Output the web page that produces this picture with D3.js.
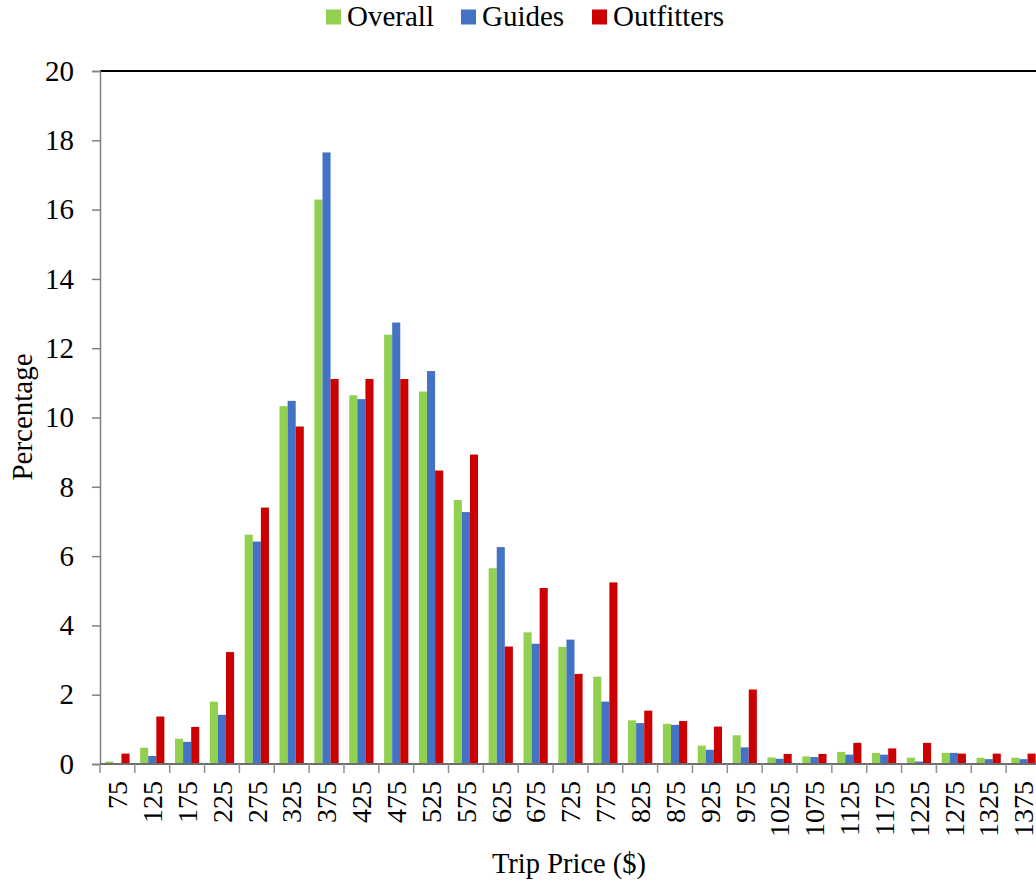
<!DOCTYPE html>
<html><head><meta charset="utf-8">
<script src="https://cdn.jsdelivr.net/npm/d3@7"></script>
<style>
html,body{margin:0;padding:0;background:#fff;}
svg{display:block;font-family:"Liberation Serif","Times New Roman",serif;}
</style></head>
<body>
<svg id="chart" width="1036" height="886"></svg>
<script>
const categories = ["75","125","175","225","275","325","375","425","475","525","575","625","675","725","775","825","875","925","975","1025","1075","1125","1175","1225","1275","1325","1375"];
const seriesNames = ["Overall","Guides","Outfitters"];
const overall =    [0.07,0.47,0.73,1.80,6.62,10.33,16.29,10.64,12.39,10.75,7.62,5.65,3.80,3.38,2.52,1.26,1.16,0.53,0.83,0.19,0.22,0.35,0.32,0.18,0.32,0.18,0.18];
const guides =     [0.00,0.23,0.64,1.42,6.42,10.48,17.65,10.53,12.74,11.34,7.27,6.26,3.47,3.59,1.80,1.18,1.13,0.41,0.48,0.15,0.20,0.27,0.27,0.07,0.32,0.14,0.14];
const outfitters = [0.30,1.37,1.07,3.23,7.40,9.74,11.11,11.11,11.11,8.47,8.93,3.39,5.08,2.60,5.24,1.54,1.24,1.08,2.15,0.29,0.29,0.61,0.45,0.61,0.30,0.30,0.30];
const yTicks = [0,2,4,6,8,10,12,14,16,18,20];
const colors = ["#92D050","#4472C4","#CC0000"];
const seriesValues = [overall, guides, outfitters];

const svg = d3.select("#chart");
const mLeft = 100, mTop = 71, mBottom = 764, bandW = 34.85;
const x = d3.scaleBand().domain(categories).range([mLeft, mLeft + categories.length * bandW]).padding(0);
const xs = d3.scaleBand().domain(seriesNames).range([5.3, bandW - 5.3]).padding(0);
const y = d3.scaleLinear().domain([0, 20]).range([mBottom, mTop]);

// bars
seriesNames.forEach((s, si) => {
  svg.append("g").selectAll("rect").data(categories).join("rect")
    .attr("x", c => x(c) + xs(s))
    .attr("width", xs.bandwidth())
    .attr("y", (c, i) => y(seriesValues[si][i]))
    .attr("height", (c, i) => y(0) - y(seriesValues[si][i]))
    .attr("fill", colors[si]);
});

// top border
svg.append("line").attr("x1", mLeft).attr("x2", 1036).attr("y1", mTop).attr("y2", mTop)
  .attr("stroke", "#000").attr("stroke-width", 2);

// y axis
const yAxis = d3.axisLeft(y).tickValues(yTicks).tickSize(8).tickPadding(18).tickFormat(d3.format("d"));
const gy = svg.append("g").attr("transform", `translate(${mLeft},0)`).call(yAxis);
gy.select(".domain").attr("stroke", "#808080").attr("stroke-width", 1.5);
gy.selectAll(".tick line").attr("stroke", "#808080").attr("stroke-width", 1.5);
gy.selectAll(".tick text").attr("font-family", "Liberation Serif").attr("font-size", 29).attr("fill", "#000");

// x axis
const gx = svg.append("g").attr("transform", `translate(0,${mBottom})`);
gx.append("line").attr("x1", mLeft).attr("x2", 1041).attr("y1", 0).attr("y2", 0)
  .attr("stroke", "#6e6e6e").attr("stroke-width", 2);
const bounds = categories.map(c => x(c)).concat([x(categories[categories.length-1]) + bandW]);
gx.selectAll("line.tk").data(bounds).join("line").attr("class", "tk")
  .attr("x1", d => d).attr("x2", d => d).attr("y1", 0).attr("y2", 9)
  .attr("stroke", "#909090").attr("stroke-width", 1.5);
gx.selectAll("text").data(categories).join("text")
  .attr("transform", c => `translate(${x(c) + bandW/2},17) rotate(-90)`)
  .attr("text-anchor", "end").attr("dy", "0.35em")
  .attr("font-size", 28).attr("fill", "#000").text(c => c);

// axis titles
svg.append("text").attr("x", 569).attr("y", 873).attr("text-anchor", "middle")
  .attr("font-size", 28.5).text("Trip Price ($)");
svg.append("text").attr("transform", "translate(32,417) rotate(-90)").attr("text-anchor", "middle")
  .attr("font-size", 29).text("Percentage");

// legend
const legendX = [326, 461, 592];
seriesNames.forEach((s, i) => {
  const g = svg.append("g").attr("transform", `translate(${legendX[i]},0)`);
  g.append("rect").attr("x", 0).attr("y", 9.5).attr("width", 15).attr("height", 15).attr("fill", colors[i]);
  g.append("text").attr("x", 21).attr("y", 26).attr("font-size", 29).attr("fill", "#000").text(s);
});
</script>
</body></html>
